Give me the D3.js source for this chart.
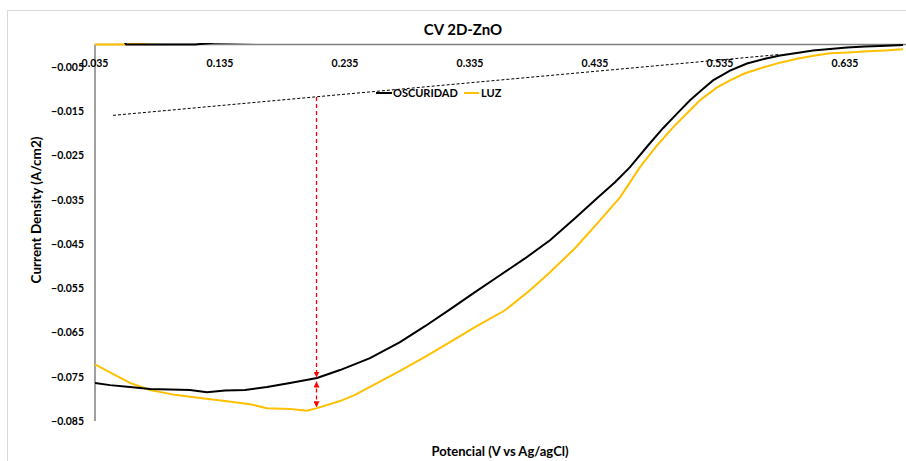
<!DOCTYPE html>
<html>
<head>
<meta charset="utf-8">
<script src="https://cdn.jsdelivr.net/npm/d3@7"></script>
<style>
  body { margin: 0; background: #fff; }
  text { font-family: Lato, "Open Sans", sans-serif; font-weight: 700; fill: #000; }
</style>
</head>
<body>
<div id="chart"></div>
<script>
// CV curves (potential V, current density A/cm2)
var oscV = [0.035,0.047,0.063,0.079,0.095,0.111,0.1246,0.139,0.155,0.1726,0.191,0.2126,0.231,0.255,0.279,0.299,0.319,0.339,0.359,0.379,0.399,0.419,0.4366,0.451,0.463,0.4774,0.4894,0.5006,0.511,0.5206,0.5294,0.543,0.5566,0.571,0.583,0.599,0.6094,0.623,0.6366,0.651,0.663,0.6814];
var oscI = [-0.0764,-0.0769,-0.0773,-0.0778,-0.0779,-0.0780,-0.0785,-0.0781,-0.0780,-0.0773,-0.0764,-0.0753,-0.0735,-0.0708,-0.0672,-0.0636,-0.0598,-0.0559,-0.0521,-0.0483,-0.0442,-0.0392,-0.0347,-0.0311,-0.0277,-0.0228,-0.0189,-0.0156,-0.0126,-0.0102,-0.0081,-0.0059,-0.0043,-0.0032,-0.0025,-0.0018,-0.00135,-0.0010,-0.0007,-0.00045,-0.00034,-0.0001];
var luzV = [0.035,0.047,0.063,0.079,0.099,0.119,0.139,0.159,0.1726,0.191,0.2046,0.2126,0.231,0.243,0.255,0.267,0.279,0.299,0.319,0.339,0.363,0.383,0.399,0.419,0.439,0.455,0.471,0.4846,0.4974,0.5094,0.519,0.5326,0.543,0.555,0.5694,0.583,0.5966,0.611,0.623,0.6374,0.6494,0.667,0.6814];
var luzI = [-0.0722,-0.0740,-0.0764,-0.0780,-0.0791,-0.0798,-0.0805,-0.0812,-0.0821,-0.0823,-0.0827,-0.0821,-0.0805,-0.0791,-0.0773,-0.0755,-0.0737,-0.0705,-0.0672,-0.0638,-0.0600,-0.0555,-0.0514,-0.0460,-0.0397,-0.0345,-0.0277,-0.0228,-0.0187,-0.0153,-0.0126,-0.0097,-0.0081,-0.0065,-0.0052,-0.0041,-0.0032,-0.0025,-0.0020,-0.0018,-0.0016,-0.00135,-0.0011];
// return sweep, mostly above 0 so it is clipped at the top axis
var oscBackV = [0.684,0.13,0.115,0.06,0.055];
var oscBackI = [0.003,0.0004,0,0,0.002];
var luzBackV = [0.684,0.08,0.06,0.035];
var luzBackI = [0.003,0.0005,0,0];
// tangent and the red marker
var tanV = [0.0494,0.583];
var tanI = [-0.0160,-0.00225];
var markV = 0.2122;
var markI = [-0.01185,-0.0752,-0.0761,-0.0819];

var xTicks = [0.035,0.135,0.235,0.335,0.435,0.535,0.635];
var yTicks = [-0.005,-0.015,-0.025,-0.035,-0.045,-0.055,-0.065,-0.075,-0.085];

var W = 906, H = 461;
var svg = d3.select("#chart").append("svg").attr("width", W).attr("height", H);

svg.append("rect").attr("x", 7.5).attr("y", 10.5).attr("width", W + 10).attr("height", H + 10)
  .attr("fill", "none").attr("stroke", "#d9d9d9");

var x = d3.scaleLinear().domain([0.035, 0.6838]).range([95, 906]);
var y = d3.scaleLinear().domain([-0.085, 0]).range([421, 44.5]);

var defs = svg.append("defs");
defs.append("clipPath").attr("id", "clip")
  .append("rect").attr("x", 95).attr("y", 43).attr("width", 811).attr("height", 380);
defs.append("marker").attr("id", "arr").attr("viewBox", "0 0 10 10")
  .attr("refX", 10).attr("refY", 5).attr("markerWidth", 6).attr("markerHeight", 6)
  .attr("markerUnits", "userSpaceOnUse").attr("orient", "auto-start-reverse")
  .append("path").attr("d", "M0,0L10,5L0,10z").attr("fill", "#ff0000");

// axes
svg.append("line").attr("x1", 95).attr("x2", 906).attr("y1", y(0)).attr("y2", y(0))
  .attr("stroke", "#7f7f7f").attr("stroke-width", 1.5);
svg.append("line").attr("x1", 95).attr("x2", 95).attr("y1", y(0)).attr("y2", y(-0.085))
  .attr("stroke", "#7f7f7f").attr("stroke-width", 1.5);

svg.selectAll(".ylab").data(yTicks).enter().append("text")
  .attr("x", 84).attr("y", function(d) { return y(d) + 4; })
  .attr("text-anchor", "end").style("font-size", "10.5px")
  .text(function(d) { return d3.format(".3f")(d); });

svg.selectAll(".xlab").data(xTicks).enter().append("text")
  .attr("x", function(d) { return x(d); }).attr("y", 67)
  .attr("text-anchor", "middle").style("font-size", "10.5px")
  .text(function(d) { return d3.format(".3f")(d); });

var line = d3.line().x(function(d) { return x(d[0]); }).y(function(d) { return y(d[1]); });
function pairs(a, b) { return a.map(function(v, i) { return [v, b[i]]; }); }

var g = svg.append("g").attr("clip-path", "url(#clip)");
g.append("path").datum(pairs(luzBackV, luzBackI)).attr("d", line)
  .attr("fill", "none").attr("stroke", "#ffc000").attr("stroke-width", 2);
g.append("path").datum(pairs(oscBackV, oscBackI)).attr("d", line)
  .attr("fill", "none").attr("stroke", "#000").attr("stroke-width", 2);
g.append("path").datum(pairs(luzV, luzI)).attr("d", line)
  .attr("fill", "none").attr("stroke", "#ffc000").attr("stroke-width", 2);
g.append("path").datum(pairs(oscV, oscI)).attr("d", line)
  .attr("fill", "none").attr("stroke", "#000").attr("stroke-width", 2);

// tangent
svg.append("path").datum(pairs(tanV, tanI)).attr("d", line)
  .attr("fill", "none").attr("stroke", "#000").attr("stroke-width", 1)
  .attr("stroke-dasharray", "3,2");

// red arrows
svg.append("line").attr("x1", x(markV)).attr("x2", x(markV))
  .attr("y1", y(markI[0])).attr("y2", y(markI[1]))
  .attr("stroke", "#ff0000").attr("stroke-width", 1.3).attr("stroke-dasharray", "4,3")
  .attr("marker-end", "url(#arr)");
svg.append("line").attr("x1", x(markV)).attr("x2", x(markV))
  .attr("y1", y(markI[2])).attr("y2", y(markI[3]))
  .attr("stroke", "#ff0000").attr("stroke-width", 1.3).attr("stroke-dasharray", "4,3")
  .attr("marker-start", "url(#arr)").attr("marker-end", "url(#arr)");

// legend
svg.append("line").attr("x1", 376).attr("x2", 392).attr("y1", 93).attr("y2", 93)
  .attr("stroke", "#000").attr("stroke-width", 2);
svg.append("text").attr("x", 393).attr("y", 97).style("font-size", "11px").text("OSCURIDAD");
svg.append("line").attr("x1", 464).attr("x2", 479).attr("y1", 93).attr("y2", 93)
  .attr("stroke", "#ffc000").attr("stroke-width", 2);
svg.append("text").attr("x", 481).attr("y", 97).style("font-size", "11px").text("LUZ");

// titles
svg.append("text").attr("x", 463).attr("y", 35).attr("text-anchor", "middle")
  .style("font-size", "15px").text("CV 2D-ZnO");
svg.append("text").attr("transform", "translate(41,210) rotate(-90)").attr("text-anchor", "middle")
  .style("font-size", "13.5px").text("Current Density (A/cm2)");
svg.append("text").attr("x", 500).attr("y", 456).attr("text-anchor", "middle")
  .style("font-size", "13px").text("Potencial (V vs Ag/agCl)");
</script>
</body>
</html>
